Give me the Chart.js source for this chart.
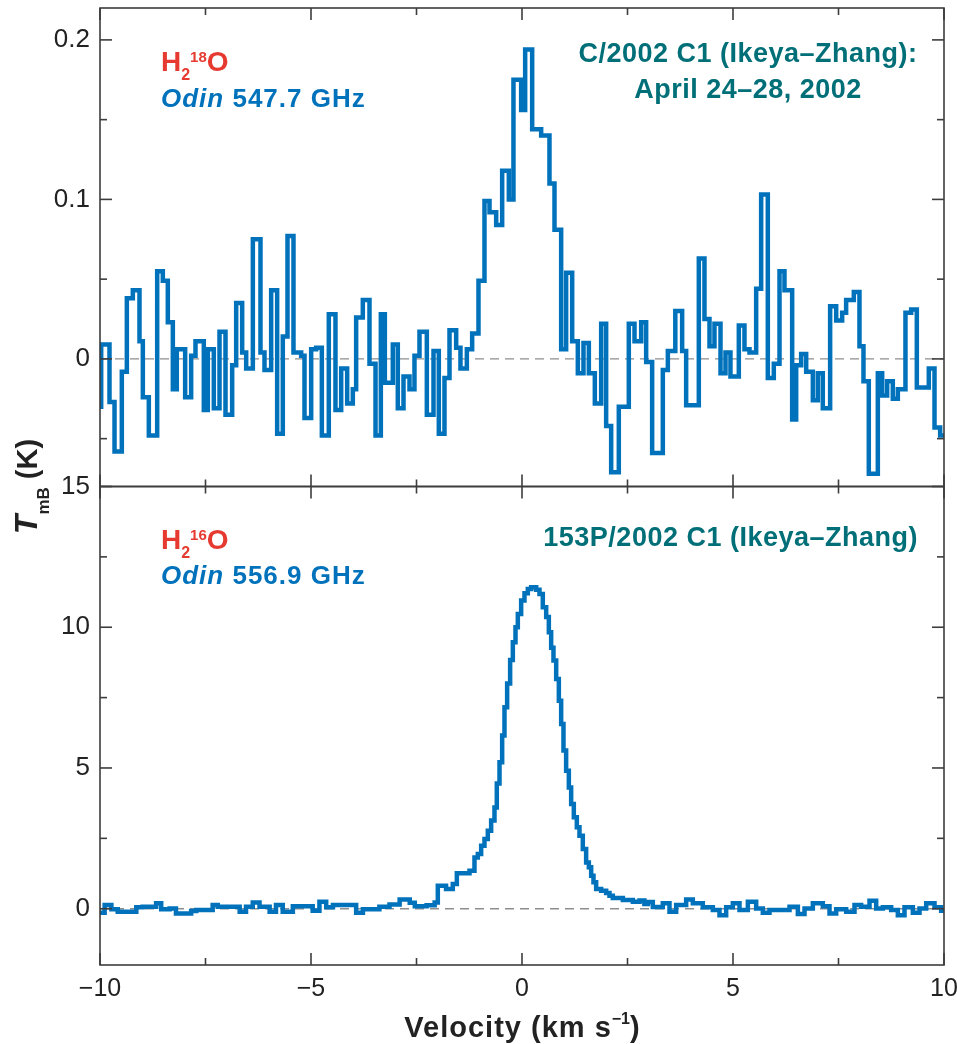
<!DOCTYPE html>
<html>
<head>
<meta charset="utf-8">
<title>Odin water spectra of comet 153P/Ikeya–Zhang</title>
<script src="https://cdn.jsdelivr.net/npm/chart.js@4.4.1/dist/chart.umd.min.js"></script>
<style>
  html, body { margin: 0; padding: 0; background: #ffffff; }
  canvas { display: block; }
</style>
</head>
<body>
<canvas id="spectra" width="957" height="1044"></canvas>
<script>
// ---- Velocity axis ----
const velocityRange = [-10, 10];
const xMajorTicks = [-10, -5, 0, 5, 10];
const xMinorTicks = [-7.5, -2.5, 2.5, 7.5];

// ---- Upper panel: H2-18O, Odin 547.7 GHz (channel left edges in km/s, T_mB in K) ----
const h218oRange = [-0.08, 0.22];
const h218oMajorTicks = [0, 0.1, 0.2];
const h218oMinorTicks = [-0.05, 0.05, 0.15];
const h218oVelocity = [
  -10.00, -9.972, -9.775, -9.656, -9.483, -9.364, -9.222, -9.064, -8.985, -8.843,
  -8.645, -8.511, -8.393, -8.274, -8.180, -7.982, -7.840, -7.737, -7.540, -7.445,
  -7.303, -7.168, -7.026, -6.868, -6.773, -6.631, -6.536, -6.378, -6.197, -6.102,
  -5.944, -5.802, -5.668, -5.557, -5.415, -5.233, -5.154, -4.996, -4.878, -4.743,
  -4.578, -4.420, -4.285, -4.143, -4.009, -3.930, -3.772, -3.614, -3.471, -3.345,
  -3.250, -3.061, -2.943, -2.808, -2.666, -2.548, -2.429, -2.255, -2.097, -1.971,
  -1.837, -1.718, -1.560, -1.458, -1.307, -1.181, -1.031, -0.889, -0.770, -0.612,
  -0.470, -0.312, -0.202, -0.020, 0.075, 0.241, 0.454, 0.651, 0.770, 0.928,
  1.046, 1.189, 1.323, 1.457, 1.584, 1.726, 1.876, 1.994, 2.113, 2.294,
  2.531, 2.666, 2.824, 2.942, 3.084, 3.337, 3.456, 3.633, 3.795, 3.890,
  4.190, 4.324, 4.443, 4.561, 4.704, 4.822, 4.940, 5.138, 5.272, 5.391,
  5.549, 5.667, 5.825, 5.967, 6.102, 6.220, 6.402, 6.497, 6.615, 6.734,
  6.892, 7.010, 7.128, 7.302, 7.445, 7.587, 7.681, 7.863, 7.997, 8.092,
  8.218, 8.432, 8.535, 8.653, 8.787, 8.906, 9.087, 9.222, 9.356, 9.640,
  9.775, 9.909
];
const h218oTemp = [
  -0.030, 0.009, -0.027, -0.058, -0.008, 0.038, 0.043, 0.011, -0.024, -0.048,
  0.055, 0.049, 0.023, -0.019, 0.006, -0.024, 0.002, 0.011, -0.032, 0.006,
  -0.031, 0.017, -0.035, -0.004, 0.035, 0.004, -0.006, 0.075, 0.004, -0.007,
  0.043, -0.047, 0.014, 0.077, 0.004, 0.002, -0.037, 0.006, 0.007, -0.048,
  0.028, -0.032, -0.006, -0.028, -0.019, 0.026, 0.037, -0.003, -0.048, 0.028,
  -0.015, 0.009, -0.031, -0.011, -0.019, 0.002, 0.017, -0.035, 0.005, -0.047,
  -0.012, 0.018, 0.007, -0.006, 0.006, 0.016, 0.049, 0.099, 0.092, 0.084,
  0.118, 0.100, 0.175, 0.156, 0.194, 0.144, 0.140, 0.110, 0.081, 0.006,
  0.054, 0.011, -0.009, 0.010, -0.009, -0.028, 0.022, -0.042, -0.071, -0.030,
  0.022, 0.011, 0.023, -0.002, -0.059, -0.007, 0.005, 0.030, 0.005, -0.029,
  0.063, 0.025, 0.008, 0.022, -0.009, 0.004, -0.011, 0.021, 0.006, 0.004,
  0.044, 0.103, -0.012, -0.003, 0.055, 0.043, -0.038, -0.004, 0.003, -0.008,
  -0.026, -0.009, -0.031, 0.033, 0.024, 0.029, 0.037, 0.042, 0.008, -0.014,
  -0.072, -0.009, -0.023, -0.014, -0.025, -0.019, 0.029, 0.031, -0.018, -0.006,
  -0.043, -0.048
];

// ---- Lower panel: H2-16O, Odin 556.9 GHz (channel left edges in km/s, T_mB in K) ----
const h216oRange = [-2, 15];
const h216oMajorTicks = [0, 5, 10, 15];
const h216oMinorTicks = [2.5, 7.5, 12.5];
const h216oVelocity = [
  -10.00, -9.89, -9.73, -9.58, -9.14, -8.99, -8.67, -8.55, -8.35, -8.20,
  -7.84, -7.72, -7.33, -7.21, -6.69, -6.54, -6.38, -6.22, -5.98, -5.83,
  -5.67, -5.43, -4.96, -4.80, -4.64, -4.48, -3.93, -3.77, -3.38, -3.14,
  -2.90, -2.66, -2.54, -2.26, -2.07, -1.995, -1.80, -1.64, -1.544, -1.244,
  -1.126, -1.047, -0.968, -0.889, -0.810, -0.731, -0.652, -0.597, -0.533, -0.470,
  -0.415, -0.352, -0.281, -0.217, -0.154, -0.099, -0.020, 0.059, 0.138, 0.217,
  0.336, 0.414, 0.493, 0.573, 0.636, 0.691, 0.746, 0.810, 0.873, 0.928,
  0.983, 1.046, 1.110, 1.165, 1.228, 1.299, 1.362, 1.441, 1.520, 1.584,
  1.639, 1.694, 1.757, 1.876, 1.994, 2.073, 2.152, 2.390, 2.627, 2.785,
  2.900, 2.982, 3.100, 3.337, 3.495, 3.653, 3.890, 4.048, 4.285, 4.522,
  4.680, 4.838, 4.996, 5.154, 5.352, 5.549, 5.707, 5.865, 6.339, 6.537,
  6.695, 6.892, 7.129, 7.287, 7.445, 7.682, 7.879, 8.037, 8.235, 8.393,
  8.551, 8.748, 8.906, 9.064, 9.262, 9.420, 9.578, 9.775, 9.933
];
const h216oTemp = [
  -0.14, 0.13, -0.02, -0.11, 0.05, 0.07, 0.19, -0.02, 0.01, -0.17,
  -0.08, -0.05, 0.13, 0.07, -0.11, 0.07, 0.22, 0.07, -0.11, 0.13,
  -0.11, 0.09, -0.07, 0.25, 0.05, 0.13, -0.14, -0.02, 0.07, 0.15,
  0.33, 0.21, 0.09, 0.12, 0.22, 0.82, 0.70, 0.88, 1.26, 1.35,
  1.82, 1.94, 2.24, 2.48, 2.77, 3.13, 3.60, 4.45, 5.20, 6.15,
  7.16, 8.00, 8.84, 9.47, 10.00, 10.47, 10.95, 11.21, 11.36, 11.42,
  11.33, 11.18, 10.71, 10.36, 9.82, 9.27, 8.82, 8.16, 7.39, 6.56,
  5.62, 4.90, 4.31, 3.72, 3.25, 2.89, 2.59, 2.12, 1.64, 1.47,
  1.17, 0.94, 0.70, 0.64, 0.56, 0.46, 0.38, 0.31, 0.25, 0.29,
  0.17, 0.24, 0.06, 0.19, -0.11, 0.13, 0.33, 0.19, 0.05, -0.05,
  -0.23, 0.05, 0.19, -0.05, 0.25, 0.01, -0.14, -0.05, 0.07, -0.19,
  0.01, 0.19, 0.09, -0.17, -0.02, -0.11, 0.13, 0.07, 0.28, 0.01,
  0.05, -0.05, -0.23, 0.05, -0.14, 0.01, 0.19, 0.05, -0.07
];

// ---- Styling ----
const FONT = '"Liberation Sans", Arial, Helvetica, sans-serif';
const LINE_BLUE = '#0072bc';
const LABEL_RED = '#e63a30';
const COMET_TEAL = '#006f78';
const AXIS_GRAY = '#3d3d3d';
const MAJOR_LEN = 12;
const MINOR_LEN = 7;

const fmt = v => (v < 0 ? '\u2212' + (-v) : String(v));

// Histogram-style spectrum: each value spans from its edge to the next edge.
function stepSeries(edges, values, rightEdge) {
  const pts = edges.map((v, i) => ({ x: v, y: values[i] }));
  pts.push({ x: rightEdge, y: values[values.length - 1] });
  return pts;
}

function zeroLine() {
  return [{ x: velocityRange[0], y: 0 }, { x: velocityRange[1], y: 0 }];
}

// Writes a run of differently styled text pieces side by side.
function drawRuns(ctx, x, y, runs, align) {
  ctx.save();
  ctx.textBaseline = 'alphabetic';
  ctx.textAlign = 'left';
  const widths = runs.map(r => {
    ctx.font = r.font;
    ctx.letterSpacing = r.spacing || '0px';
    return ctx.measureText(r.text).width;
  });
  const total = widths.reduce((a, b) => a + b, 0);
  let cx = align === 'center' ? x - total / 2 : align === 'right' ? x - total : x;
  runs.forEach((r, i) => {
    ctx.font = r.font;
    ctx.letterSpacing = r.spacing || '0px';
    ctx.fillStyle = r.color;
    ctx.fillText(r.text, cx, y + (r.dy || 0));
    cx += widths[i];
  });
  ctx.restore();
}

const b = (size) => `bold ${size}px ${FONT}`;
const bi = (size) => `italic bold ${size}px ${FONT}`;

// Frames, inward tick marks and annotations for both stacked panels.
const panelDecor = {
  id: 'panelDecor',
  afterDatasetsDraw(chart) {
    const { ctx } = chart;
    const xs = chart.scales.x;
    const panels = [
      { s: chart.scales.yTop, major: h218oMajorTicks, minor: h218oMinorTicks },
      { s: chart.scales.yBot, major: h216oMajorTicks, minor: h216oMinorTicks }
    ];
    ctx.save();
    ctx.strokeStyle = AXIS_GRAY;
    ctx.lineWidth = 1.6;
    const seg = (x1, y1, x2, y2) => { ctx.beginPath(); ctx.moveTo(x1, y1); ctx.lineTo(x2, y2); ctx.stroke(); };
    for (const p of panels) {
      const L = xs.left, R = xs.right, T = p.s.top, B = p.s.bottom;
      ctx.strokeRect(L, T, R - L, B - T);
      [[p.major, MAJOR_LEN], [p.minor, MINOR_LEN]].forEach(([vals, len]) => {
        vals.forEach(v => {
          const py = p.s.getPixelForValue(v);
          seg(L, py, L + len, py);
          seg(R, py, R - len, py);
        });
      });
      [[xMajorTicks, MAJOR_LEN], [xMinorTicks, MINOR_LEN]].forEach(([vals, len]) => {
        vals.forEach(v => {
          const px = xs.getPixelForValue(v);
          seg(px, T, px, T + len);
          seg(px, B, px, B - len);
        });
      });
    }
    ctx.restore();
  },
  afterDraw(chart) {
    const { ctx } = chart;
    const xs = chart.scales.x;
    const top = chart.scales.yTop, bot = chart.scales.yBot;
    const lx = xs.left + 61;

    // Upper panel labels
    drawRuns(ctx, lx, top.top + 62.5, [
      { text: 'H', font: b(28), color: LABEL_RED },
      { text: '2', font: b(16), color: LABEL_RED, dy: 9.5 },
      { text: '18', font: b(15), color: LABEL_RED, dy: -9 },
      { text: 'O', font: b(28), color: LABEL_RED }
    ], 'left');
    drawRuns(ctx, lx, top.top + 99, [
      { text: 'Odin', font: bi(26), color: LINE_BLUE, spacing: '1px' },
      { text: ' 547.7 GHz', font: b(26), color: LINE_BLUE, spacing: '1px' }
    ], 'left');
    drawRuns(ctx, 748, top.top + 54, [
      { text: 'C/2002 C1 (Ikeya\u2013Zhang):', font: b(27), color: COMET_TEAL, spacing: '0.5px' }
    ], 'center');
    drawRuns(ctx, 748, top.top + 90, [
      { text: 'April 24\u201328, 2002', font: b(27), color: COMET_TEAL, spacing: '0.5px' }
    ], 'center');

    // Lower panel labels
    drawRuns(ctx, lx, bot.top + 62, [
      { text: 'H', font: b(28), color: LABEL_RED },
      { text: '2', font: b(16), color: LABEL_RED, dy: 9.5 },
      { text: '16', font: b(15), color: LABEL_RED, dy: -9 },
      { text: 'O', font: b(28), color: LABEL_RED }
    ], 'left');
    drawRuns(ctx, lx, bot.top + 97.5, [
      { text: 'Odin', font: bi(26), color: LINE_BLUE, spacing: '1px' },
      { text: ' 556.9 GHz', font: b(26), color: LINE_BLUE, spacing: '1px' }
    ], 'left');
    drawRuns(ctx, 918, bot.top + 59, [
      { text: '153P/2002 C1 (Ikeya\u2013Zhang)', font: b(27), color: COMET_TEAL, spacing: '0.5px' }
    ], 'right');

    // Velocity axis title
    drawRuns(ctx, (xs.left + xs.right) / 2, 1037, [
      { text: 'Velocity (km s', font: b(29), color: '#222', spacing: '1px' },
      { text: '\u22121', font: b(16), color: '#222', dy: -13 },
      { text: ')', font: b(29), color: '#222' }
    ], 'center');

    // Shared temperature axis title, rotated
    ctx.save();
    ctx.translate(37, bot.top);
    ctx.rotate(-Math.PI / 2);
    drawRuns(ctx, 0, 0, [
      { text: 'T', font: bi(32), color: '#222' },
      { text: 'mB', font: b(17), color: '#222', dy: 12 },
      { text: ' (K)', font: b(29), color: '#222' }
    ], 'center');
    ctx.restore();
  }
};

function panelAxis(range, labelTicks, weight) {
  return {
    type: 'linear',
    position: 'left',
    stack: 'panels',
    stackWeight: 1,
    weight: weight,
    min: range[0],
    max: range[1],
    afterBuildTicks: s => { s.ticks = labelTicks.map(v => ({ value: v })); },
    afterFit: s => { s.width = 100; s.paddingTop = 0; s.paddingBottom = 0; },
    grid: { display: false, drawTicks: false },
    border: { display: false },
    ticks: {
      color: '#222',
      font: { family: FONT, size: 26 },
      padding: 10,
      autoSkip: false,
      callback: v => fmt(v)
    }
  };
}

const lineStyle = {
  borderColor: LINE_BLUE,
  borderWidth: 4.5,
  pointRadius: 0,
  fill: false,
  stepped: 'before',
  borderJoinStyle: 'miter',
  borderCapStyle: 'butt'
};
const dashStyle = {
  borderColor: '#8e8e8e',
  borderWidth: 1.4,
  borderDash: [9, 6],
  pointRadius: 0,
  fill: false
};

new Chart(document.getElementById('spectra'), {
  type: 'line',
  data: {
    datasets: [
      Object.assign({ label: 'H2 18O 547.7 GHz', yAxisID: 'yTop',
        data: stepSeries(h218oVelocity, h218oTemp, velocityRange[1]) }, lineStyle),
      Object.assign({ label: 'H2 16O 556.9 GHz', yAxisID: 'yBot',
        data: stepSeries(h216oVelocity, h216oTemp, velocityRange[1]) }, lineStyle),
      Object.assign({ label: 'zero (upper)', yAxisID: 'yTop', data: zeroLine() }, dashStyle),
      Object.assign({ label: 'zero (lower)', yAxisID: 'yBot', data: zeroLine() }, dashStyle)
    ]
  },
  options: {
    responsive: false,
    animation: false,
    events: [],
    layout: { padding: { left: 0, right: 13, top: 8, bottom: 0 } },
    plugins: { legend: { display: false }, tooltip: { enabled: false } },
    scales: {
      x: {
        type: 'linear',
        position: 'bottom',
        min: velocityRange[0],
        max: velocityRange[1],
        afterBuildTicks: s => { s.ticks = xMajorTicks.map(v => ({ value: v })); },
        afterFit: s => { s.height = 79; s.paddingLeft = 0; s.paddingRight = 0; },
        grid: { display: false, drawTicks: false },
        border: { display: false },
        ticks: {
          color: '#222',
          font: { family: FONT, size: 25 },
          padding: 9,
          maxRotation: 0,
          autoSkip: false,
          callback: v => fmt(v)
        }
      },
      yTop: panelAxis(h218oRange, h218oMajorTicks, 2),
      yBot: panelAxis(h216oRange, h216oMajorTicks, 1)
    }
  },
  plugins: [panelDecor]
});
</script>
</body>
</html>
